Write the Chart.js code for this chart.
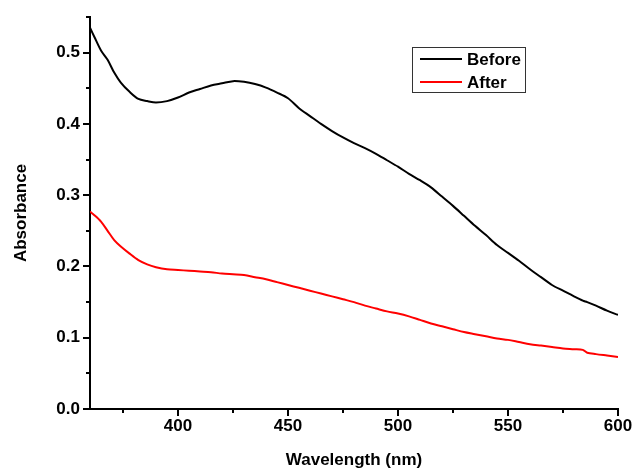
<!DOCTYPE html>
<html>
<head>
<meta charset="utf-8">
<script src="https://cdn.jsdelivr.net/npm/chart.js@4.4.1/dist/chart.umd.min.js"></script>
<style>
  html, body { margin: 0; padding: 0; background: #fff; }
  #wrap { width: 632px; height: 469px; }
</style>
</head>
<body>
<div id="wrap"><canvas id="uvChart" width="632" height="469"></canvas></div>
<script>
// Wavelength (nm) sample points
const wavelengths = [360, 362, 365, 368, 371, 374, 378, 382, 386, 390, 395, 400, 405, 410, 415, 420, 425, 430, 435, 440,
    445, 450, 455, 460, 465, 470, 475, 480, 485, 490, 495, 500, 505, 510, 515, 520, 525, 530, 535, 540,
    545, 550, 555, 560, 565, 570, 575, 580, 584, 586, 590, 595, 600];

const beforeValues = [0.535, 0.522, 0.503, 0.490, 0.472, 0.458, 0.445, 0.435, 0.432, 0.430, 0.432, 0.437, 0.444, 0.449, 0.454, 0.457, 0.460, 0.459, 0.456, 0.451,
    0.444, 0.436, 0.422, 0.411, 0.400, 0.390, 0.381, 0.373, 0.366, 0.358, 0.349, 0.340, 0.330, 0.321, 0.311, 0.298, 0.285, 0.271, 0.257, 0.244,
    0.230, 0.219, 0.208, 0.196, 0.185, 0.174, 0.166, 0.158, 0.152, 0.150, 0.145, 0.138, 0.132];

const afterValues = [0.277, 0.272, 0.263, 0.250, 0.237, 0.228, 0.218, 0.209, 0.203, 0.199, 0.196, 0.195, 0.194, 0.193, 0.192, 0.190, 0.189, 0.188, 0.185, 0.182,
    0.178, 0.174, 0.170, 0.166, 0.162, 0.158, 0.154, 0.150, 0.145, 0.141, 0.137, 0.134, 0.130, 0.125, 0.120, 0.116, 0.112, 0.108, 0.105, 0.102,
    0.099, 0.097, 0.094, 0.091, 0.089, 0.087, 0.085, 0.084, 0.083, 0.079, 0.077, 0.075, 0.073];

const seriesLabels = ['Before', 'After'];
const seriesColors = ['#000000', '#ff0000'];

const xTicks = [375, 400, 425, 450, 475, 500, 525, 550, 575, 600];
const yTicks = [0, 0.05, 0.1, 0.15, 0.2, 0.25, 0.3, 0.35, 0.4, 0.45, 0.5, 0.55];

const FONT = '"Liberation Sans", Arial, sans-serif';

function toPoints(xs, ys) {
    return xs.map((x, i) => ({ x: x, y: ys[i] }));
}

function isMajorX(v) { return v % 50 === 0; }
function isMajorY(v) { return Math.abs(Math.round(v * 10) - v * 10) < 1e-6; }

// outward tick marks, long for labelled ticks, short for the minor ones
const tickMarks = {
    id: 'tickMarks',
    afterDraw(chart) {
        const ctx = chart.ctx;
        const xs = chart.scales.x;
        const ys = chart.scales.y;
        const area = chart.chartArea;
        ctx.save();
        ctx.strokeStyle = '#000';
        ctx.lineWidth = 2;
        xs.ticks.forEach(t => {
            const px = Math.round(xs.getPixelForValue(t.value));
            const len = isMajorX(t.value) ? 7 : 4;
            ctx.beginPath();
            ctx.moveTo(px, area.bottom);
            ctx.lineTo(px, area.bottom + len);
            ctx.stroke();
        });
        ys.ticks.forEach(t => {
            const py = Math.round(ys.getPixelForValue(t.value));
            const len = isMajorY(t.value) ? 7 : 4;
            ctx.beginPath();
            ctx.moveTo(area.left, py);
            ctx.lineTo(area.left - len, py);
            ctx.stroke();
        });
        ctx.restore();
    }
};

// boxed legend in the upper right, like the original plot
const boxLegend = {
    id: 'boxLegend',
    afterDraw(chart) {
        const ctx = chart.ctx;
        ctx.save();
        ctx.strokeStyle = '#333';
        ctx.lineWidth = 1;
        ctx.strokeRect(412.5, 47.5, 113, 45);
        ctx.font = 'bold 17px ' + FONT;
        ctx.textBaseline = 'middle';
        ctx.fillStyle = '#000';
        chart.data.datasets.forEach((ds, i) => {
            const y = 59 + i * 23;
            ctx.strokeStyle = ds.borderColor;
            ctx.lineWidth = 2;
            ctx.beginPath();
            ctx.moveTo(420, y);
            ctx.lineTo(462, y);
            ctx.stroke();
            ctx.fillText(ds.label, 467, y + 1);
        });
        ctx.restore();
    }
};

new Chart(document.getElementById('uvChart'), {
    type: 'line',
    data: {
        datasets: [
            {
                label: seriesLabels[0],
                data: toPoints(wavelengths, beforeValues),
                borderColor: seriesColors[0],
                borderWidth: 2,
                pointRadius: 0,
                tension: 0.3,
                fill: false
            },
            {
                label: seriesLabels[1],
                data: toPoints(wavelengths, afterValues),
                borderColor: seriesColors[1],
                borderWidth: 2,
                pointRadius: 0,
                tension: 0.3,
                fill: false
            }
        ]
    },
    options: {
        responsive: false,
        animation: false,
        layout: { padding: { top: 17, right: 14, left: 0, bottom: 0 } },
        plugins: {
            legend: { display: false },
            tooltip: { enabled: false }
        },
        scales: {
            x: {
                type: 'linear',
                min: 360,
                max: 600,
                afterBuildTicks: s => { s.ticks = xTicks.map(v => ({ value: v })); },
                afterFit: s => { s.height = 60; s.paddingLeft = 0; s.paddingRight = 0; },
                grid: { display: false, drawTicks: false, tickLength: 0 },
                border: { display: true, color: '#000', width: 2 },
                ticks: {
                    autoSkip: false,
                    maxRotation: 0,
                    padding: 7,
                    color: '#000',
                    font: { family: FONT, size: 17, weight: 'bold' },
                    callback: v => isMajorX(v) ? String(v) : ''
                },
                title: {
                    display: true,
                    text: 'Wavelength (nm)',
                    color: '#000',
                    font: { family: FONT, size: 17, weight: 'bold', lineHeight: 1 },
                    padding: { top: 0, bottom: 0 }
                }
            },
            y: {
                min: 0,
                max: 0.55,
                afterBuildTicks: s => { s.ticks = yTicks.map(v => ({ value: v })); },
                afterFit: s => { s.width = 90; s.paddingTop = 0; s.paddingBottom = 0; },
                grid: { display: false, drawTicks: false, tickLength: 0 },
                border: { display: true, color: '#000', width: 2 },
                ticks: {
                    autoSkip: false,
                    padding: 10,
                    color: '#000',
                    font: { family: FONT, size: 17, weight: 'bold' },
                    callback: v => isMajorY(v) ? v.toFixed(1) : ''
                },
                title: {
                    display: true,
                    text: 'Absorbance',
                    color: '#000',
                    font: { family: FONT, size: 17, weight: 'bold' },
                    padding: { top: 11, bottom: 0 }
                }
            }
        }
    },
    plugins: [tickMarks, boxLegend]
});
</script>
</body>
</html>
